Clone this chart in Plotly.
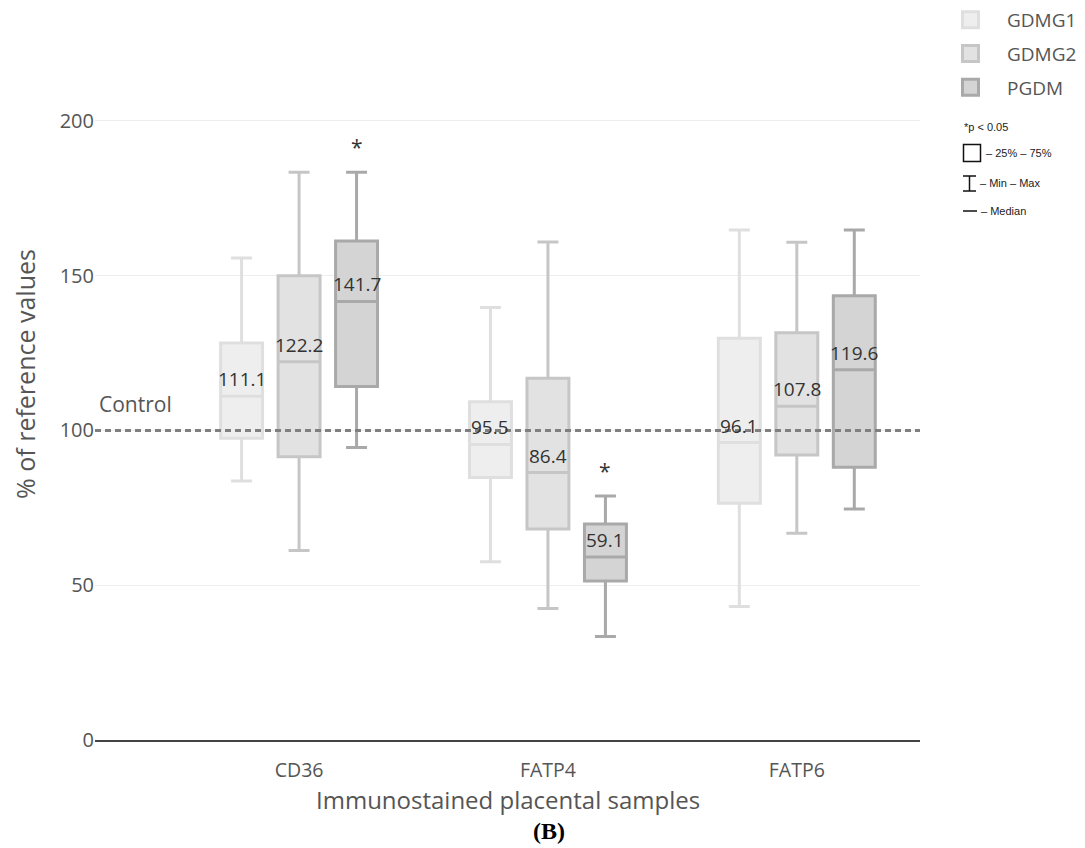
import plotly.graph_objects as go

categories = ["CD36", "FATP4", "FATP6"]
groups = ["GDMG1", "GDMG2", "PGDM"]

gdmg1_min = [83.7, 57.6, 43.1]
gdmg1_q1 = [97.5, 84.8, 76.5]
gdmg1_med = [111.1, 95.5, 96.1]
gdmg1_q3 = [128.3, 109.3, 129.8]
gdmg1_max = [155.7, 139.7, 164.8]

gdmg2_min = [61.2, 42.5, 66.8]
gdmg2_q1 = [91.5, 68.2, 92.1]
gdmg2_med = [122.2, 86.4, 107.8]
gdmg2_q3 = [150.0, 116.9, 131.6]
gdmg2_max = [183.4, 160.9, 160.8]

pgdm_min = [94.5, 33.4, 74.6]
pgdm_q1 = [114.2, 51.4, 88.1]
pgdm_med = [141.7, 59.1, 119.6]
pgdm_q3 = [161.2, 69.8, 143.5]
pgdm_max = [183.4, 78.8, 164.8]

pgdm_significant = [True, True, False]
control_value = 100
y_ticks = [0, 50, 100, 150, 200]

fills = ["#eeeeee", "#e2e2e2", "#d4d4d4"]
lines = ["#dfdfdf", "#c6c6c6", "#a9a9a9"]

stats = [
    (gdmg1_min, gdmg1_q1, gdmg1_med, gdmg1_q3, gdmg1_max),
    (gdmg2_min, gdmg2_q1, gdmg2_med, gdmg2_q3, gdmg2_max),
    (pgdm_min, pgdm_q1, pgdm_med, pgdm_q3, pgdm_max),
]

BOXGAP = 0.307
spacing = (1 - BOXGAP) / len(groups)

fig = go.Figure()
for j, (name, st) in enumerate(zip(groups, stats)):
    lo, q1, med, q3, hi = st
    fig.add_trace(go.Box(
        name=name, x=categories, q1=q1, median=med, q3=q3,
        lowerfence=lo, upperfence=hi,
        fillcolor=fills[j], line=dict(color=lines[j], width=3),
        boxpoints=False, showlegend=False, hoverinfo="skip",
        offsetgroup=str(j), whiskerwidth=0.5,
    ))
    # legend proxy
    fig.add_trace(go.Scatter(
        x=[None], y=[None], mode="markers", name=name, legendgroup=name,
        marker=dict(symbol="square", size=17, color=fills[j],
                    line=dict(color=lines[j], width=3)),
    ))

annotations = []
for j, st in enumerate(stats):
    med = st[2]
    for i, m in enumerate(med):
        annotations.append(dict(
            x=i + (j - 1) * spacing, y=m, xref="x", yref="y",
            text=f"{m:.1f}", showarrow=False, yanchor="bottom",
            yshift=2, font=dict(size=19, color="#333333"),
        ))
for i, sig in enumerate(pgdm_significant):
    if sig:
        annotations.append(dict(
            x=i + spacing, y=pgdm_max[i], xref="x", yref="y",
            text="*", showarrow=False, yanchor="bottom", yshift=9,
            font=dict(size=21, color="#333333"),
        ))

# page-pixel helpers (plot area: x 95..920, y 8..740 on the page)
W, H, L, T = 825.0, 732.0, 95.0, 8.0
def px(x):
    return (x - L) / W
def py(y):
    return 1 - (y - T) / H

annotations.append(dict(
    x=0, y=control_value, xref="paper", yref="y", text="Control",
    showarrow=False, xanchor="left", yanchor="bottom", yshift=10, xshift=2,
    font=dict(size=21, color="#555555"),
))
# x-axis title
annotations.append(dict(
    x=px(508), y=py(799), xref="paper", yref="paper",
    text="Immunostained placental samples", showarrow=False,
    xanchor="center", yanchor="middle", font=dict(size=24, color="#555555"),
))
annotations.append(dict(
    x=px(549), y=py(831), xref="paper", yref="paper", text="<b>(B)</b>",
    showarrow=False, xanchor="center", yanchor="middle",
    font=dict(size=24, color="#000000", family="Liberation Serif, DejaVu Serif, serif"),
))

key_font = dict(size=11, color="#222222", family="Liberation Sans, Arial, sans-serif")
annotations += [
    dict(x=px(962), y=py(127), xref="paper", yref="paper", text="*p < 0.05",
         showarrow=False, xanchor="left", yanchor="middle", font=key_font),
    dict(x=px(984), y=py(153), xref="paper", yref="paper", text="– 25% – 75%",
         showarrow=False, xanchor="left", yanchor="middle", font=key_font),
    dict(x=px(978), y=py(183), xref="paper", yref="paper", text="– Min – Max",
         showarrow=False, xanchor="left", yanchor="middle", font=key_font),
    dict(x=px(979), y=py(211), xref="paper", yref="paper", text="– Median",
         showarrow=False, xanchor="left", yanchor="middle", font=key_font),
]

shapes = [
    dict(type="line", xref="paper", yref="y", x0=0, x1=1,
         y0=control_value, y1=control_value,
         line=dict(color="#7f7f7f", width=3, dash="6px,4px")),
    dict(type="rect", xref="paper", yref="paper", x0=px(963.5), x1=px(980.5),
         y0=py(161.5), y1=py(144.5), line=dict(color="#111111", width=1.5)),
    dict(type="line", xref="paper", yref="paper", x0=px(963), x1=px(976),
         y0=py(176), y1=py(176), line=dict(color="#111111", width=1.5)),
    dict(type="line", xref="paper", yref="paper", x0=px(963), x1=px(976),
         y0=py(191), y1=py(191), line=dict(color="#111111", width=1.5)),
    dict(type="line", xref="paper", yref="paper", x0=px(969.5), x1=px(969.5),
         y0=py(176), y1=py(191), line=dict(color="#111111", width=1.5)),
    dict(type="line", xref="paper", yref="paper", x0=px(963), x1=px(977),
         y0=py(211), y1=py(211), line=dict(color="#111111", width=1.5)),
]

fig.update_layout(
    width=1077, height=840,
    margin=dict(l=87, r=165, t=0, b=108, autoexpand=False),
    paper_bgcolor="white", plot_bgcolor="white",
    font=dict(family="Open Sans, sans-serif", color="#555555"),
    boxmode="group", boxgap=BOXGAP, boxgroupgap=0.27,
    legend=dict(x=px(934), y=py(1), xref="paper", yref="paper",
                xanchor="left", yanchor="top", tracegroupgap=6,
                itemwidth=63,
                font=dict(size=19, color="#555555"), bgcolor="rgba(0,0,0,0)"),
    annotations=annotations, shapes=shapes,
    xaxis=dict(
        type="category", range=[-0.82, 2.495], showgrid=False,
        showline=True, linecolor="#444444", linewidth=2,
        ticks="outside", ticklen=12, tickcolor="rgba(0,0,0,0)",
        tickfont=dict(size=19.5, color="#555555"),
        zeroline=False, automargin=False,
    ),
    yaxis=dict(
        range=[0, 236.5], tickvals=y_ticks, showgrid=True,
        gridcolor="#eeeeee", gridwidth=1, zeroline=False,
        ticks="",
        tickfont=dict(size=20, color="#555555"),
        title=dict(text="% of reference values",
                   font=dict(size=25, color="#555555"), standoff=33),
        showline=False, automargin=False,
    ),
)

fig.write_html("out.html")
